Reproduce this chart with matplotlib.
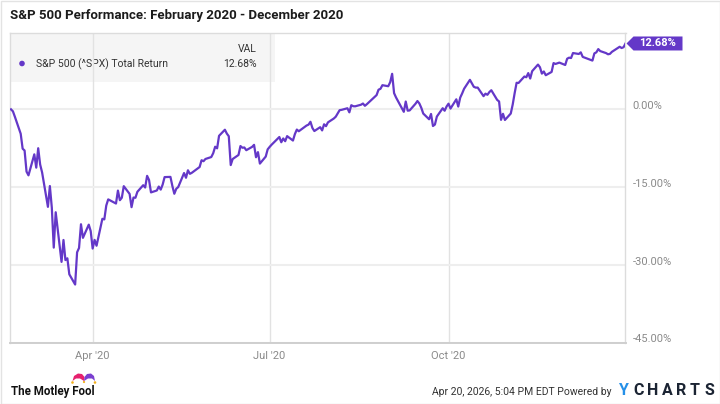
import matplotlib
matplotlib.use("Agg")
import numpy as np
import matplotlib.pyplot as plt
from matplotlib.patches import Rectangle, Polygon, Circle
from matplotlib.transforms import ScaledTranslation

plt.rcParams['font.family'] = ['Roboto', 'DejaVu Sans']

# S&P 500 total return (%) since Feb 19, 2020
trade_days = [
    "02-19", "02-20", "02-21", "02-24", "02-25", "02-26", "02-27", "02-28",
    "03-02", "03-03", "03-04", "03-05", "03-06", "03-09", "03-10", "03-11", "03-12", "03-13",
    "03-16", "03-17", "03-18", "03-19", "03-20", "03-23", "03-24", "03-25", "03-26", "03-27",
    "03-30", "03-31",
    "04-01", "04-02", "04-03", "04-06", "04-07", "04-08", "04-09", "04-13", "04-14", "04-15",
    "04-16", "04-17", "04-20", "04-21", "04-22", "04-23", "04-24", "04-27", "04-28", "04-29",
    "04-30",
    "05-01", "05-04", "05-05", "05-06", "05-07", "05-08", "05-11", "05-12", "05-13", "05-14",
    "05-15", "05-18", "05-19", "05-20", "05-21", "05-22", "05-26", "05-27", "05-28", "05-29",
    "06-01", "06-02", "06-03", "06-04", "06-05", "06-08", "06-09", "06-10", "06-11", "06-12",
    "06-15", "06-16", "06-17", "06-18", "06-19", "06-22", "06-23", "06-24", "06-25", "06-26",
    "06-29", "06-30",
    "07-01", "07-02", "07-06", "07-07", "07-08", "07-09", "07-10", "07-13", "07-14", "07-15",
    "07-16", "07-17", "07-20", "07-21", "07-22", "07-23", "07-24", "07-27", "07-28", "07-29",
    "07-30", "07-31",
    "08-03", "08-04", "08-05", "08-06", "08-07", "08-10", "08-11", "08-12", "08-13", "08-14",
    "08-17", "08-18", "08-19", "08-20", "08-21", "08-24", "08-25", "08-26", "08-27", "08-28",
    "08-31",
    "09-01", "09-02", "09-03", "09-04", "09-08", "09-09", "09-10", "09-11", "09-14", "09-15",
    "09-16", "09-17", "09-18", "09-21", "09-22", "09-23", "09-24", "09-25", "09-28", "09-29",
    "09-30",
    "10-01", "10-02", "10-05", "10-06", "10-07", "10-08", "10-09", "10-12", "10-13", "10-14",
    "10-15", "10-16", "10-19", "10-20", "10-21", "10-22", "10-23", "10-26", "10-27", "10-28",
    "10-29", "10-30",
    "11-02", "11-03", "11-04", "11-05", "11-06", "11-09", "11-10", "11-11", "11-12", "11-13",
    "11-16", "11-17", "11-18", "11-19", "11-20", "11-23", "11-24", "11-25", "11-27", "11-30",
    "12-01", "12-02", "12-03", "12-04", "12-07", "12-08", "12-09", "12-10", "12-11", "12-14",
    "12-15", "12-16", "12-17", "12-18", "12-21", "12-22", "12-23", "12-24", "12-28", "12-29",
    "12-30", "12-31",
]
total_return = [
    0.00, -0.38, -1.42, -4.70, -7.58, -7.93, -11.99, -12.71,
    -8.67, -11.23, -7.49, -10.62, -12.14, -18.78, -14.77, -18.93, -26.63, -19.82,
    -29.38, -25.16, -29.03, -28.69, -31.77, -33.74, -27.53, -26.70, -22.13, -24.75,
    -22.21, -23.45,
    -26.81, -25.14, -26.27, -21.08, -21.20, -18.53, -17.34, -18.14, -15.65, -17.50,
    -17.02, -14.80, -16.29, -18.84, -16.99, -17.03, -15.88, -14.61, -15.06, -12.81,
    -13.61,
    -16.00, -15.63, -14.87, -15.46, -14.49, -13.05, -13.01, -14.78, -16.26, -15.30,
    -14.97, -12.27, -13.18, -11.74, -12.42, -12.22, -11.11, -9.80, -9.99, -9.56,
    -9.19, -8.44, -7.20, -7.51, -5.10, -3.93, -4.67, -5.18, -10.73, -9.57,
    -8.79, -7.07, -7.40, -7.35, -7.87, -7.23, -6.84, -9.23, -8.24, -10.45,
    -9.10, -7.71,
    -7.24, -6.82, -5.33, -6.34, -5.61, -6.14, -5.16, -6.01, -4.76, -3.90,
    -4.22, -3.95, -3.12, -2.95, -2.40, -3.59, -4.18, -3.44, -4.06, -2.88,
    -3.24, -2.51,
    -1.77, -1.42, -0.79, -0.16, -0.10, 0.21, -0.58, 0.80, 0.60, 0.58,
    0.89, 1.12, 0.68, 0.99, 1.34, 2.37, 2.74, 3.78, 3.95, 4.65,
    4.45,
    5.23, 6.84, 3.12, 2.29, -0.48, 1.50, -0.26, -0.21, 1.07, 1.60,
    1.13, 0.29, -0.81, -1.91, -0.89, -3.21, -2.93, -1.39, 0.21, -0.27,
    0.55,
    1.09, 0.14, 1.93, 0.53, 2.25, 3.06, 3.96, 5.68, 5.03, 4.34,
    4.18, 4.19, 2.54, 3.02, 2.80, 3.33, 3.68, 1.82, 1.51, -2.02,
    -0.86, -2.05,
    -0.81, 0.93, 3.12, 5.11, 5.08, 6.32, 6.18, 6.98, 5.93, 7.35,
    8.62, 8.11, 6.88, 7.29, 6.57, 7.20, 8.91, 8.74, 9.00, 8.54,
    9.75, 9.95, 9.88, 10.84, 10.66, 10.97, 10.10, 9.96, 9.82, 9.39,
    10.78, 10.97, 11.60, 11.22, 10.83, 10.60, 10.68, 11.07, 12.05, 11.81,
    11.96, 12.68,
]
xtick_dates = ["2020-04-01", "2020-07-01", "2020-10-01"]
xtick_labels = ["Apr '20", "Jul '20", "Oct '20"]
ytick_values = [0, -15, -30, -45]

series_name = "S&P 500 (^SPX) Total Return"
title = "S&P 500 Performance: February 2020 - December 2020"

purple = "#6438c8"

dates = np.array(["2020-" + d for d in trade_days], dtype="datetime64[D]")

fig = plt.figure(figsize=(7.2, 4.04), dpi=100)
W, H = 720, 404

# overlay in pixel coords, placed under the chart axes
ov = fig.add_axes([0, 0, 1, 1])
ov.set_xlim(0, W)
ov.set_ylim(H, 0)
ov.axis("off")
ov.set_zorder(0)

ax = fig.add_axes([10 / W, 1 - 343 / H, 615.5 / W, 310 / H])
ax.set_zorder(1)
ax.patch.set_alpha(0)

ax.plot(dates, total_return, color=purple, lw=1.6, solid_joinstyle="round", zorder=3)

ax.set_xlim(np.datetime64("2020-02-18T12:00"), np.datetime64("2020-12-31"))
ax.set_ylim(-45, 14.7)

ax.set_xticks(np.array(xtick_dates, dtype="datetime64[D]"))
ax.set_xticklabels(xtick_labels)
ax.set_yticks(ytick_values)
ax.set_yticklabels([f"{v:.2f}%" for v in ytick_values])
ax.yaxis.tick_right()
ax.tick_params(axis="x", length=0, pad=6, labelsize=8, labelcolor="#8a8a8a")
ax.tick_params(axis="y", length=0, pad=5, labelsize=8, labelcolor="#8a8a8a")
for lab in ax.get_yticklabels():
    lab.set_transform(lab.get_transform() + ScaledTranslation(0, 4.5 / 100, fig.dpi_scale_trans))

ax.grid(axis="y", color="#eeeeee", lw=1.5)
ax.grid(axis="x", color="#e2e2e2", lw=1)
ax.set_axisbelow(True)
for side in ["left", "right", "top"]:
    ax.spines[side].set_color("#dcdcdc")
    ax.spines[side].set_linewidth(1)
ax.spines["bottom"].set_color("#cfcfcf")
ax.spines["bottom"].set_linewidth(1.4)

# outer frame
ov.add_patch(Rectangle((0.5, 0.5), W - 1, H - 1, fill=False, ec="#e3e3e3", lw=1))

# title
ov.text(10, 16, title, fontsize=9.5, fontweight="bold", color="#1c1c1c", va="center", ha="left")

# legend box
ov.add_patch(Rectangle((10, 33), 265, 49, fc="#f5f5f5", ec="none"))
ov.text(257, 49, "VAL", fontsize=7.5, color="#333333", ha="right", va="center")
ov.add_patch(Circle((22, 63.5), 2.8, fc=purple, ec="none"))
ov.text(36, 64, series_name, fontsize=7.5, color="#333333", ha="left", va="center")
ov.text(257, 64, f"{total_return[-1]:.2f}%", fontsize=7.5, color="#333333", ha="right", va="center")

# last value tag on the right axis
fig.canvas.draw()
tip = ax.transData.transform((dates[-1].astype(float), total_return[-1]))
tx, ty = tip[0], H - tip[1]
ov.add_patch(Polygon([(tx + 1, ty), (tx + 8, ty - 7), (tx + 57, ty - 7), (tx + 57, ty + 7),
                      (tx + 8, ty + 7)], closed=True, fc=purple, ec="none", zorder=5))
ov.text(tx + 32.5, ty, f"{total_return[-1]:.2f}%", fontsize=8, fontweight="bold", color="white",
        ha="center", va="center", zorder=6)

# Motley Fool logo
ov.text(11, 391, "The Motley Fool", fontsize=8.3, fontweight="bold", color="#111111",
        ha="left", va="center")
ov.add_patch(Polygon([(72.5, 381), (74, 376), (78, 373.5), (82, 374), (84.5, 377), (84, 381),
                      (80, 378.5), (76, 378.5)], closed=True, fc="#e6206e", ec="none"))
ov.add_patch(Polygon([(84, 381), (84.5, 377), (87, 374), (91, 373.5), (94, 376), (95, 381),
                      (92, 378.5), (88, 378.5)], closed=True, fc="#7a3fd0", ec="none"))
ov.add_patch(Circle((72.5, 382.5), 1.3, fc="#f2b01e", ec="none"))
ov.add_patch(Circle((95, 382.5), 1.3, fc="#f2b01e", ec="none"))
ov.add_patch(Circle((84, 382), 1.1, fc="#f2b01e", ec="none"))

# footer right
ov.text(611, 392, "Apr 20, 2026, 5:04 PM EDT Powered by", fontsize=7.5, color="#333333",
        ha="right", va="center")
ov.text(623.5, 390.5, "Y", fontsize=11.5, fontweight="bold", color="#2590e8", ha="center", va="center")
for i, ch in enumerate("CHARTS"):
    ov.text(639 + i * 14.0, 390.5, ch, fontsize=11.5, fontweight="bold", color="#1b2433",
            ha="center", va="center")

fig.savefig("out.png", dpi=100)
